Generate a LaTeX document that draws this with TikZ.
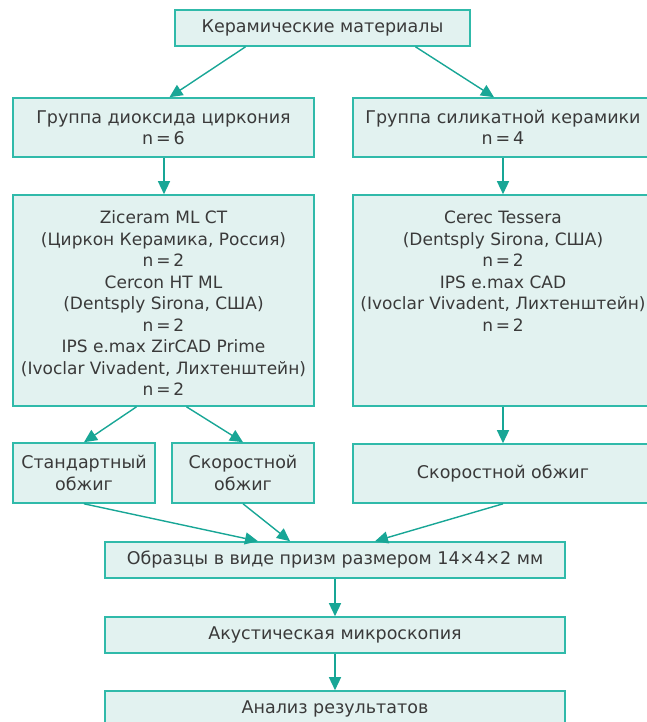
\documentclass[tikz,border=0pt]{standalone}
\usepackage{fontspec}
\setmainfont{DejaVu Sans}
\usetikzlibrary{arrows.meta}

\definecolor{boxline}{RGB}{48,186,170}
\definecolor{boxfill}{RGB}{226,242,240}
\definecolor{arrline}{RGB}{24,166,150}
\definecolor{txt}{RGB}{58,58,58}

% top-aligned list of materials inside a tall box
\newcommand{\toplist}[1]{\parbox[c][184pt][t]{292pt}{\centering\fontsize{17}{21.5}\selectfont
    \begin{tabular}{@{}c@{}}#1\end{tabular}}}

\begin{document}
\begin{tikzpicture}[
    x=1pt, y=-1pt,
    block/.style={rectangle, draw=boxline, line width=1.6pt, fill=boxfill, text=txt,
        align=center, inner sep=3pt, font=\fontsize{17.5}{21.5}\selectfont},
    arr/.style={draw=arrline, line width=1.4pt, -{Triangle[length=13pt,width=12pt]}}
]
\useasboundingbox (0,0) rectangle (647,722);
\clip (0,0) rectangle (647,722);

% Define boxes
\node[block, minimum width=295pt, minimum height=36pt] (top) at (322.5,28) {Керамические материалы};
\node[block, minimum width=301pt, minimum height=59pt] (g1) at (163.5,127.5) {Группа диоксида циркония\\n\,=\,6};
\node[block, minimum width=300pt, minimum height=59pt] (g2) at (503,127.5) {Группа силикатной керамики\\n\,=\,4};
\node[block, minimum width=301pt, minimum height=211pt] (m1) at (163.5,300.5) {\toplist{Ziceram ML CT\\(Циркон Керамика, Россия)\\n\,=\,2\\Cercon HT ML\\(Dentsply Sirona, США)\\n\,=\,2\\IPS e.max ZirCAD Prime\\(Ivoclar Vivadent, Лихтенштейн)\\n\,=\,2}};
\node[block, minimum width=300pt, minimum height=211pt] (m2) at (503,300.5) {\toplist{Cerec Tessera\\(Dentsply Sirona, США)\\n\,=\,2\\IPS e.max CAD\\(Ivoclar Vivadent, Лихтенштейн)\\n\,=\,2}};
\node[block, minimum width=142pt, minimum height=60pt] (f1) at (84,473) {Стандартный\\обжиг};
\node[block, minimum width=142pt, minimum height=60pt] (f2) at (243,473) {Скоростной\\обжиг};
\node[block, minimum width=300pt, minimum height=59pt] (f3) at (503,473.5) {Скоростной обжиг};
\node[block, minimum width=460pt, minimum height=36pt] (s) at (335,560) {Образцы в виде призм размером 14×4×2 мм};
\node[block, minimum width=460pt, minimum height=36pt] (a) at (335,635) {Акустическая микроскопия};
\node[block, minimum width=460pt, minimum height=36pt] (r) at (335,709) {Анализ результатов};

% Define arrows
\draw[arr] ([xshift=-77pt]top.south) -- ([xshift=6pt]g1.north);
\draw[arr] ([xshift=93pt]top.south) -- ([xshift=-9pt]g2.north);
\draw[arr] ([xshift=0.5pt]g1.south) -- ([xshift=0.5pt]m1.north);
\draw[arr] (g2) -- (m2);
\draw[arr] ([xshift=-27pt]m1.south) -- (f1.north);
\draw[arr] ([xshift=23pt]m1.south) -- (f2.north);
\draw[arr] (m2) -- (f3);
\draw[arr] (f1.south) -- ([xshift=-77pt]s.north);
\draw[arr] (f2.south) -- ([xshift=-45pt]s.north);
\draw[arr] (f3.south) -- ([xshift=40pt]s.north);
\draw[arr] (s) -- (a);
\draw[arr] (a) -- (r);

\end{tikzpicture}
\end{document}
